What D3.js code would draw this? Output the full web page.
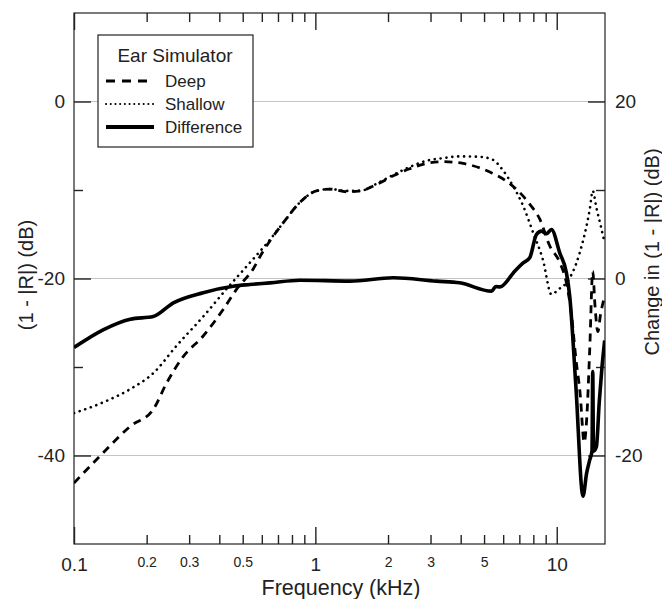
<!DOCTYPE html>
<html>
<head>
<meta charset="utf-8">
<script src="https://cdn.jsdelivr.net/npm/d3@7"></script>
<style>
  body { margin: 0; background: #fff; }
  svg { font-family: "Liberation Sans", Arial, sans-serif; }
</style>
</head>
<body>
<div id="chart"></div>
<script>
// frequency (kHz) / value pairs
const deepFreq = [0.1, 0.132, 0.171, 0.213, 0.242, 0.284, 0.343, 0.415, 0.472, 0.55, 0.608, 0.65, 0.736, 0.863, 1.01, 1.15, 1.35, 1.53, 1.79, 2.1, 2.46, 2.88, 3.38, 4.09, 4.8, 5.41, 6.19, 6.92, 7.73, 8.51, 9.35, 10.3, 10.97, 11.5, 12.0, 12.5, 13.0, 13.3, 13.7, 14.1, 14.4, 14.8, 15.2, 15.8];
const deepDb = [-43.1, -39.7, -36.7, -34.8, -31.8, -28.8, -26.5, -23.5, -21.2, -19.0, -16.9, -15.7, -13.7, -11.4, -10.1, -9.9, -10.2, -10.1, -9.4, -8.4, -7.6, -7.0, -6.8, -7.0, -7.5, -8.1, -9.0, -10.1, -11.6, -13.3, -16.3, -18.2, -20.5, -24, -29, -33, -38.5, -36, -28, -19.2, -23, -26, -24, -22];

const shallowFreq = [0.1, 0.132, 0.171, 0.213, 0.266, 0.343, 0.428, 0.536, 0.649, 0.736, 0.863, 1.01, 1.15, 1.35, 1.53, 1.79, 2.1, 2.46, 2.88, 3.38, 3.96, 4.8, 5.41, 5.96, 6.61, 7.26, 7.98, 8.77, 9.51, 10.2, 10.97, 12.45, 13.7, 14.1, 14.6, 15.2, 15.8];
const shallowDb = [-35.2, -34.0, -32.5, -30.7, -27.6, -24.3, -21.2, -18.2, -15.6, -13.7, -11.4, -10.1, -9.9, -10.1, -10.1, -9.3, -8.3, -7.4, -6.7, -6.4, -6.2, -6.25, -6.55, -7.7, -9.6, -11.8, -14.8, -17.9, -21.8, -21.2, -20.5, -17.1, -12.2, -10.1, -12, -14, -16];

const diffFreq = [0.1, 0.132, 0.171, 0.213, 0.258, 0.343, 0.457, 0.536, 0.649, 0.863, 1.39, 2.1, 3.17, 3.96, 5.37, 5.6, 5.81, 6.7, 7.26, 7.73, 8.24, 8.65, 9.07, 9.51, 10.29, 10.97, 11.32, 12.0, 12.85, 13.3, 13.7, 14.0, 14.1, 14.2, 14.6, 15.0, 15.4, 15.8];
const diffDb = [-7.8, -5.8, -4.6, -4.3, -2.75, -1.6, -0.87, -0.68, -0.49, -0.19, -0.3, 0.08, -0.3, -0.49, -1.43, -0.9, -0.95, 0.83, 1.77, 2.34, 4.97, 5.35, 5.05, 5.54, 2.9, 0.64, -2.0, -12.1, -24.6, -22, -20.5, -19.5, -10.5, -19.5, -19, -14, -10, -7];

const xMajor = [0.1, 1, 10];
const xMinor = [0.2, 0.3, 0.4, 0.5, 0.6, 0.7, 0.8, 0.9, 2, 3, 4, 5, 6, 7, 8, 9];
const xMinorLabels = [0.2, 0.3, 0.5, 2, 3, 5];
const leftMajor = [0, -20, -40];
const leftMinor = [-10, -30];
const rightMajor = [20, 0, -20];
const rightMinor = [10, -10];

const legendNames = ["Deep", "Shallow", "Difference"];

const width = 662, height = 599;
const pLeft = 74, pRight = 605, pTop = 13, pBottom = 544;

const svg = d3.select("#chart").append("svg")
    .attr("width", width)
    .attr("height", height);

const x = d3.scaleLog().domain([0.1, Math.pow(10, 1.2)]).range([pLeft, pRight]);
const yL = d3.scaleLinear().domain([-50, 10]).range([pBottom, pTop]);
const yR = d3.scaleLinear().domain([-30, 30]).range([pBottom, pTop]);

const axisColor = "#222";
const plain = d => String(d);   // hyphen minus, like the original

// grid lines
svg.append("g").selectAll("line")
    .data(leftMajor)
    .enter().append("line")
    .attr("x1", pLeft).attr("x2", pRight)
    .attr("y1", d => yL(d)).attr("y2", d => yL(d))
    .attr("stroke", "#c4c4c4")
    .attr("stroke-width", 1);

function styleAxis(g) {
    g.select(".domain").remove();
    g.selectAll(".tick line").attr("stroke", axisColor).attr("stroke-width", 1.4);
    g.selectAll("text").attr("fill", "#222").attr("font-family", null);
}

// bottom axis
svg.append("g").attr("transform", `translate(0,${pBottom})`)
    .call(d3.axisBottom(x).tickValues(xMajor).tickSize(-17).tickPadding(14).tickFormat(plain))
    .call(styleAxis)
    .call(g => g.selectAll("text").attr("font-size", 19));
svg.append("g").attr("transform", `translate(0,${pBottom})`)
    .call(d3.axisBottom(x).tickValues(xMinor).tickSize(-9).tickPadding(13)
        .tickFormat(d => xMinorLabels.includes(d) ? String(d) : ""))
    .call(styleAxis)
    .call(g => g.selectAll("text").attr("font-size", 14));

// top axis
svg.append("g").attr("transform", `translate(0,${pTop})`)
    .call(d3.axisTop(x).tickValues(xMajor).tickSize(-17).tickFormat(""))
    .call(styleAxis);
svg.append("g").attr("transform", `translate(0,${pTop})`)
    .call(d3.axisTop(x).tickValues(xMinor).tickSize(-9).tickFormat(""))
    .call(styleAxis);

// left axis
svg.append("g").attr("transform", `translate(${pLeft},0)`)
    .call(d3.axisLeft(yL).tickValues(leftMajor).tickSize(-17).tickPadding(9).tickFormat(plain))
    .call(styleAxis)
    .call(g => g.selectAll("text").attr("font-size", 19));
svg.append("g").attr("transform", `translate(${pLeft},0)`)
    .call(d3.axisLeft(yL).tickValues(leftMinor).tickSize(-9).tickFormat(""))
    .call(styleAxis);

// right axis
svg.append("g").attr("transform", `translate(${pRight},0)`)
    .call(d3.axisRight(yR).tickValues(rightMajor).tickSize(-17).tickPadding(10).tickFormat(plain))
    .call(styleAxis)
    .call(g => g.selectAll("text").attr("font-size", 19));
svg.append("g").attr("transform", `translate(${pRight},0)`)
    .call(d3.axisRight(yR).tickValues(rightMinor).tickSize(-9).tickFormat(""))
    .call(styleAxis);

// frame
svg.append("rect")
    .attr("x", pLeft).attr("y", pTop)
    .attr("width", pRight - pLeft).attr("height", pBottom - pTop)
    .attr("fill", "none")
    .attr("stroke", axisColor)
    .attr("stroke-width", 1.2);

// axis titles
svg.append("text")
    .attr("x", 341).attr("y", 595)
    .attr("text-anchor", "middle")
    .attr("font-size", 21.5)
    .attr("fill", "#222")
    .text("Frequency (kHz)");

svg.append("text")
    .attr("transform", "translate(33,275) rotate(-90)")
    .attr("text-anchor", "middle")
    .attr("font-size", 20)
    .attr("fill", "#222")
    .text("(1 - |R|) (dB)");

svg.append("text")
    .attr("transform", "translate(659,252) rotate(-90)")
    .attr("text-anchor", "middle")
    .attr("font-size", 20)
    .attr("fill", "#222")
    .text("Change in (1 - |R|) (dB)");

// curves
svg.append("clipPath").attr("id", "plot-clip")
    .append("rect")
    .attr("x", pLeft).attr("y", pTop)
    .attr("width", pRight - pLeft).attr("height", pBottom - pTop);

const plot = svg.append("g").attr("clip-path", "url(#plot-clip)");

const deep = deepFreq.map((f, i) => ({f: f, v: deepDb[i]}));
const shallow = shallowFreq.map((f, i) => ({f: f, v: shallowDb[i]}));
const diff = diffFreq.map((f, i) => ({f: f, v: diffDb[i]}));

const lineL = d3.line().x(d => x(d.f)).y(d => yL(d.v)).curve(d3.curveMonotoneX);
const lineR = d3.line().x(d => x(d.f)).y(d => yR(d.v)).curve(d3.curveMonotoneX);

plot.append("path")
    .datum(shallow)
    .attr("d", lineL)
    .attr("fill", "none")
    .attr("stroke", "#000")
    .attr("stroke-width", 2.6)
    .attr("stroke-dasharray", "0.1 5.8")
    .attr("stroke-linecap", "round");

plot.append("path")
    .datum(deep)
    .attr("d", lineL)
    .attr("fill", "none")
    .attr("stroke", "#000")
    .attr("stroke-width", 2.8)
    .attr("stroke-dasharray", "8 6");

plot.append("path")
    .datum(diff)
    .attr("d", lineR)
    .attr("fill", "none")
    .attr("stroke", "#000")
    .attr("stroke-width", 3.6)
    .attr("stroke-linejoin", "round");

// legend
const legend = svg.append("g");
legend.append("rect")
    .attr("x", 98).attr("y", 35)
    .attr("width", 155).attr("height", 112)
    .attr("fill", "#fff")
    .attr("stroke", "#222")
    .attr("stroke-width", 1.2);
legend.append("text")
    .attr("x", 175).attr("y", 62)
    .attr("text-anchor", "middle")
    .attr("font-size", 19)
    .attr("fill", "#222")
    .text("Ear Simulator");

const legendStyles = [
    {w: 2.8, dash: "9 7", cap: "butt"},
    {w: 2, dash: "0.1 4.6", cap: "round"},
    {w: 4, dash: null, cap: "butt"}
];
const legendY = [81, 104, 127];

legendNames.forEach((name, i) => {
    const st = legendStyles[i];
    legend.append("line")
        .attr("x1", 106).attr("x2", 154)
        .attr("y1", legendY[i]).attr("y2", legendY[i])
        .attr("stroke", "#000")
        .attr("stroke-width", st.w)
        .attr("stroke-dasharray", st.dash)
        .attr("stroke-linecap", st.cap);
    legend.append("text")
        .attr("x", 165).attr("y", legendY[i] + 6)
        .attr("font-size", 17)
        .attr("fill", "#222")
        .text(name);
});
</script>
</body>
</html>
